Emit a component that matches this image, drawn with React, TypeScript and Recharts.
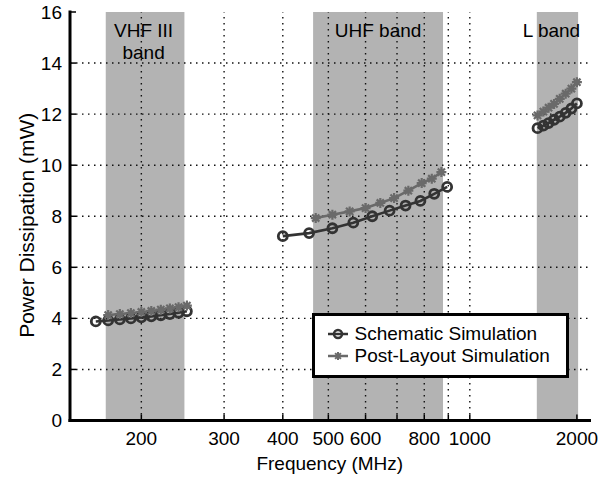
import React from "react";
import {
  LineChart,
  Line,
  XAxis,
  YAxis,
  ReferenceArea,
  ReferenceLine,
  Legend,
} from "recharts";

// frequency in MHz, power in mW
const vhfSchematicFreq = [160, 170, 180, 190, 200, 210, 220, 230, 240, 250];
const vhfSchematic = [3.88, 3.92, 3.96, 4.0, 4.04, 4.08, 4.12, 4.17, 4.22, 4.28];
const vhfPostFreq = [170, 180, 190, 200, 210, 220, 230, 240, 250];
const vhfPost = [4.13, 4.17, 4.21, 4.25, 4.29, 4.34, 4.39, 4.44, 4.5];

const uhfSchematicFreq = [400, 455, 510, 565, 620, 675, 730, 785, 840, 895];
const uhfSchematic = [7.22, 7.34, 7.53, 7.75, 8.0, 8.22, 8.42, 8.6, 8.88, 9.15];
const uhfPostFreq = [470, 510, 555, 600, 645, 690, 740, 790, 830, 870];
const uhfPost = [7.93, 8.06, 8.19, 8.32, 8.52, 8.71, 9.0, 9.3, 9.47, 9.73];

const lSchematicFreq = [1550, 1610, 1665, 1725, 1790, 1860, 1930, 2000];
const lSchematic = [11.45, 11.55, 11.65, 11.78, 11.9, 12.05, 12.22, 12.42];
const lPostFreq = [1550, 1610, 1665, 1725, 1790, 1860, 1930, 2000];
const lPost = [11.95, 12.1, 12.25, 12.4, 12.6, 12.8, 13.0, 13.25];

const bands = [
  { name: ["VHF III", "band"], from: 168, to: 247, dx: -1.5 },
  { name: ["UHF band"], from: 464, to: 877, dx: 0 },
  { name: ["L band"], from: 1543, to: 2016, dx: -6 },
];

const freqTicks = [200, 300, 400, 500, 600, 700, 800, 900, 1000, 2000];
const freqLabels = ["200", "300", "400", "500", "600", "", "800", "", "1000", "2000"];
const freqGrid = [200, 300, 400, 500, 600, 700, 800, 900, 1000];
const powerTicks = [0, 2, 4, 6, 8, 10, 12, 14, 16];
const powerGrid = [2, 4, 6, 8, 10, 12, 14];
const freqRange = [141, 2170];

// the source squeezes the decade above 1 GHz
const SQUEEZE = 0.757;
const toAxis = (f: number) =>
  f <= 1000 ? Math.log10(f) : 3 + SQUEEZE * Math.log10(f / 1000);

const toPoints = (freqs: number[], vals: number[]) =>
  freqs.map((f, i) => ({ u: toAxis(f), mw: vals[i] }));

const FONT = "'Liberation Sans', Arial, sans-serif";
const FS = 19;
const DARK = "#333333";
const MID = "#6a6a6a";
const PATCH = "#b3b3b3";

const tickU = freqTicks.map(toAxis);
const labelFor = (v: number) => {
  const i = tickU.findIndex((t) => Math.abs(t - v) < 1e-6);
  return i >= 0 ? freqLabels[i] : "";
};

const starPath = (cx: number, cy: number, s = 5) => {
  const d = s * 0.72;
  return `M${cx - s},${cy}L${cx + s},${cy}M${cx},${cy - s}L${cx},${cy + s}` +
    `M${cx - d},${cy - d}L${cx + d},${cy + d}M${cx - d},${cy + d}L${cx + d},${cy - d}`;
};

const renderStar = (props: any) => {
  const { cx, cy, index } = props;
  if (cx == null || cy == null) return <g key={index} />;
  return (
    <path key={index} d={starPath(cx, cy)} stroke={MID} strokeWidth={2.2} fill="none" />
  );
};

const circleDot = { r: 4.5, stroke: DARK, strokeWidth: 2.8, fill: "none" };

const bandLabel = (lines: string[], dx: number) => (props: any) => {
  const { x, y, width } = props.viewBox;
  return (
    <text
      x={x + width / 2 + dx}
      y={y + 24.5}
      textAnchor="middle"
      fontSize={FS}
      fontFamily={FONT}
      fill="#000"
    >
      {lines.map((l, i) => (
        <tspan key={l} x={x + width / 2 + dx} dy={i === 0 ? 0 : 22}>
          {l}
        </tspan>
      ))}
    </text>
  );
};

function LegendBox() {
  const row = { display: "flex", alignItems: "center", height: 22, whiteSpace: "nowrap" as const };
  return (
    <div
      style={{
        border: "3px solid #000",
        background: "#fff",
        padding: "7px 8px 7px 13px",
        fontFamily: FONT,
        fontSize: FS,
        color: "#000",
        boxSizing: "border-box",
        width: 257,
        height: 65,
      }}
    >
      <div style={row}>
        <svg width={20} height={22} style={{ marginRight: 7 }}>
          <line x1={0} y1={11} x2={20} y2={11} stroke={DARK} strokeWidth={2.5} />
          <circle cx={10} cy={11} r={4} stroke={DARK} strokeWidth={2.5} fill="none" />
        </svg>
        Schematic Simulation
      </div>
      <div style={row}>
        <svg width={20} height={22} style={{ marginRight: 7 }}>
          <line x1={0} y1={11} x2={20} y2={11} stroke={MID} strokeWidth={2.5} />
          <path d={starPath(10, 11, 4)} stroke={MID} strokeWidth={2} fill="none" />
        </svg>
        Post-Layout Simulation
      </div>
    </div>
  );
}

const axisLine = { stroke: "#000", strokeWidth: 3, strokeLinecap: "square" as const };
const tickLine = { stroke: "#000", strokeWidth: 1.5 };
const tickStyle = { fill: "#000", fontSize: FS, fontFamily: FONT };
const gridStyle = { stroke: "#111", strokeWidth: 1.4, strokeDasharray: "1.5 4.5" };

export default function App() {
  const domain = freqRange.map(toAxis);
  const series = [
    { key: "vs", data: toPoints(vhfSchematicFreq, vhfSchematic), kind: "s" },
    { key: "us", data: toPoints(uhfSchematicFreq, uhfSchematic), kind: "s" },
    { key: "ls", data: toPoints(lSchematicFreq, lSchematic), kind: "s" },
    { key: "vp", data: toPoints(vhfPostFreq, vhfPost), kind: "p" },
    { key: "up", data: toPoints(uhfPostFreq, uhfPost), kind: "p" },
    { key: "lp", data: toPoints(lPostFreq, lPost), kind: "p" },
  ];

  return (
    <div style={{ position: "absolute", left: 0, top: 0, width: 616, height: 478, background: "#fff" }}>
      <LineChart
        width={616}
        height={478}
        margin={{ top: 12, right: 26.5, bottom: 7.5, left: 10 }}
      >
        <XAxis
          xAxisId="main"
          type="number"
          dataKey="u"
          domain={domain}
          allowDataOverflow
          ticks={tickU}
          interval={0}
          tickFormatter={labelFor}
          height={50}
          tickSize={-6}
          tickMargin={17}
          axisLine={axisLine}
          tickLine={tickLine}
          tick={tickStyle}
          label={{
            value: "Frequency (MHz)",
            position: "center",
            dy: 18,
            style: { fill: "#000", fontSize: FS, fontFamily: FONT },
          }}
        />
        <XAxis
          xAxisId="top"
          orientation="top"
          type="number"
          dataKey="u"
          domain={domain}
          allowDataOverflow
          ticks={tickU}
          interval={0}
          height={0}
          tickSize={-6}
          tick={false}
          axisLine={axisLine}
          tickLine={tickLine}
        />
        <YAxis
          yAxisId="main"
          type="number"
          domain={[0, 16]}
          ticks={powerTicks}
          interval={0}
          width={60}
          tickSize={-6}
          tickMargin={14}
          axisLine={axisLine}
          tickLine={tickLine}
          tick={tickStyle}
          label={{
            value: "Power Dissipation (mW)",
            angle: -90,
            position: "center",
            dx: -13,
            dy: 9,
            style: { fill: "#000", fontSize: 21, fontFamily: FONT, textAnchor: "middle" },
          }}
        />
        <YAxis
          yAxisId="right"
          orientation="right"
          type="number"
          domain={[0, 16]}
          ticks={powerTicks}
          interval={0}
          width={0}
          tickSize={-6}
          tick={false}
          axisLine={axisLine}
          tickLine={tickLine}
        />

        {bands.map((b) => (
          <ReferenceArea
            key={b.from}
            xAxisId="main"
            yAxisId="main"
            x1={toAxis(b.from)}
            x2={toAxis(b.to)}
            y1={0}
            y2={16}
            fill={PATCH}
            fillOpacity={1}
            stroke="none"
            ifOverflow="visible"
            label={bandLabel(b.name, b.dx)}
          />
        ))}

        {freqGrid.map((f) => (
          <ReferenceLine key={"gx" + f} xAxisId="main" yAxisId="main" x={toAxis(f)} {...gridStyle} />
        ))}
        {powerGrid.map((p) => (
          <ReferenceLine key={"gy" + p} xAxisId="main" yAxisId="main" y={p} {...gridStyle} />
        ))}

        {series.map((s) => (
          <Line
            key={s.key}
            xAxisId="main"
            yAxisId="main"
            data={s.data}
            dataKey="mw"
            type="linear"
            stroke={s.kind === "s" ? DARK : MID}
            strokeWidth={2.6}
            dot={s.kind === "s" ? circleDot : renderStar}
            activeDot={false}
            isAnimationActive={false}
            legendType="none"
          />
        ))}

        <Legend
          layout="vertical"
          align="center"
          verticalAlign="middle"
          content={() => <LegendBox />}
          wrapperStyle={{ left: 311.5, top: 313, width: 257 }}
        />
      </LineChart>
    </div>
  );
}
